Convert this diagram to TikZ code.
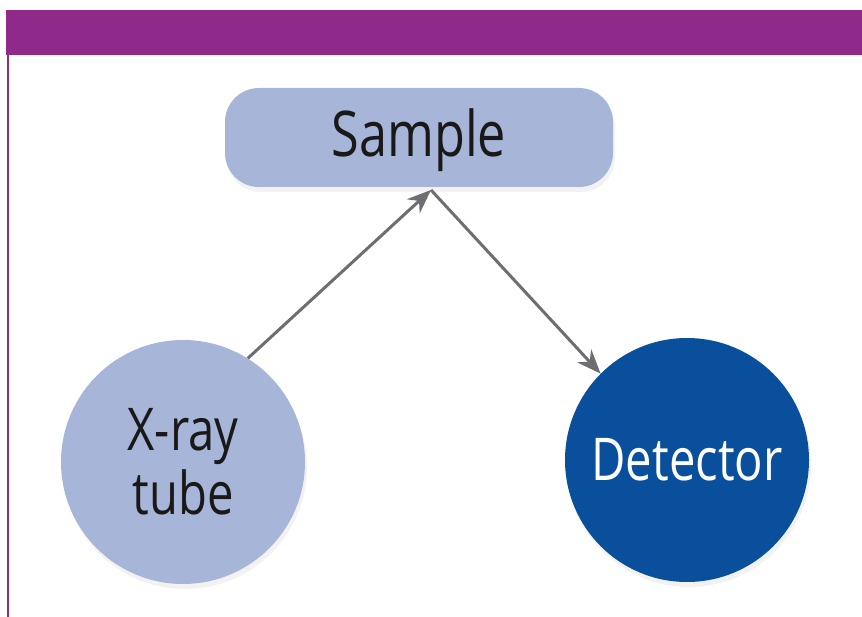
\documentclass[tikz,border=0pt]{standalone}
\usepackage{fontspec}
\setmainfont[FakeStretch=0.8]{Open Sans}
\usetikzlibrary{arrows.meta,shadows}
\definecolor{banner}{HTML}{8F2A8B}
\definecolor{lightnode}{HTML}{A7B5D8}
\definecolor{darknode}{HTML}{0A4F9C}
\definecolor{arrowgray}{HTML}{6D6E71}
\tikzset{
  shade/.style={drop shadow={opacity=0.10,shadow xshift=2pt,shadow yshift=-5pt}},
  samplebox/.style={shade,fill=lightnode,rounded corners=34pt,minimum width=388pt,minimum height=99pt,inner sep=0pt,text height=45pt,text depth=6pt,font=\fontsize{63}{63}\selectfont,text=black!90},
  disc/.style={shade,circle,minimum size=244pt,inner sep=0pt,align=center,font=\fontsize{59}{64}\selectfont},
  ray/.style={draw=arrowgray,line width=3pt,-{Stealth[length=24pt,width=19pt]}}
}
\begin{document}
\begin{tikzpicture}[x=1pt,y=-1pt]
\useasboundingbox (0,0) rectangle (862,617);
\fill[banner] (6,10) rectangle (862,55);
\draw[banner,line width=2pt] (7.5,55) -- (7.5,617);
\node[samplebox] (sample) at (419,137.5) {Sample};
\node[disc,fill=lightnode,text=black!90] (xray) at (183,462) {X-ray\\tube};
\node[disc,fill=darknode,text=white] (det) at (687,460) {Detector};
\coordinate (tip) at (431,190);
\draw[ray] (xray.58) -- (tip);
\draw[ray] (tip) -- (det.135);
\end{tikzpicture}
\end{document}
